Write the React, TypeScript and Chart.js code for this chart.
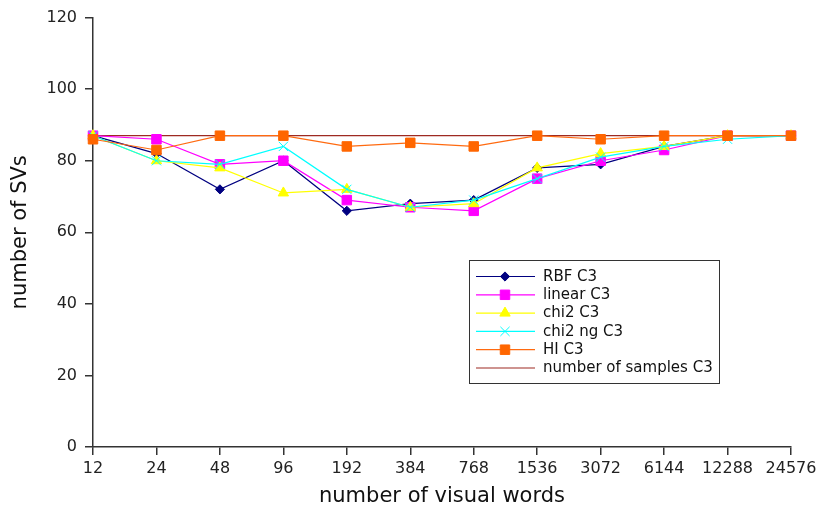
import React, { useEffect, useRef } from "react";
import { Chart, registerables } from "chart.js";
import { drawPoint } from "chart.js/helpers";

Chart.register(...registerables);

const categories = ["12", "24", "48", "96", "192", "384", "768", "1536", "3072", "6144", "12288", "24576"];
const rbfC3 = [87, 82, 72, 80, 66, 68, 69, 78, 79, 84, 87, 87];
const linearC3 = [87, 86, 79, 80, 69, 67, 66, 75, 80, 83, 87, 87];
const chi2C3 = [87, 80, 78, 71, 72, 67, 68, 78, 82, 84, 87, 87];
const chi2ngC3 = [87, 80, 79, 84, 72, 67, 69, 75, 81, 84, 86, 87];
const hiC3 = [86, 83, 87, 87, 84, 85, 84, 87, 86, 87, 87, 87];
const samplesC3 = [87, 87, 87, 87, 87, 87, 87, 87, 87, 87, 87, 87];

const yTicks = [0, 20, 40, 60, 80, 100, 120];
const xTitle = "number of visual words";
const yTitle = "number of SVs";

const FONT = "'DejaVu Sans', sans-serif";

const boxLegend = {
  id: "boxLegend",
  afterDraw(chart: any) {
    const ctx = chart.ctx;
    const x0 = 469, y0 = 260, w = 250, h = 123;
    ctx.save();
    ctx.fillStyle = "#ffffff";
    ctx.fillRect(x0, y0, w, h);
    ctx.strokeStyle = "#333333";
    ctx.lineWidth = 1;
    ctx.strokeRect(x0 + 0.5, y0 + 0.5, w, h);
    chart.data.datasets.forEach((ds: any, i: number) => {
      const y = 276.5 + i * 18.3;
      ctx.strokeStyle = ds.borderColor;
      ctx.lineWidth = ds.borderWidth;
      ctx.beginPath();
      ctx.moveTo(476, y);
      ctx.lineTo(535, y);
      ctx.stroke();
      if (ds.pointRadius > 0) {
        ctx.fillStyle = ds.pointBackgroundColor;
        ctx.strokeStyle = ds.pointBorderColor;
        ctx.lineWidth = ds.pointBorderWidth;
        drawPoint(ctx, { pointStyle: ds.pointStyle, radius: ds.pointRadius, borderWidth: ds.pointBorderWidth, rotation: 0 }, 505, y);
      }
      ctx.fillStyle = "#111111";
      ctx.font = "15px " + FONT;
      ctx.textAlign = "left";
      ctx.textBaseline = "middle";
      ctx.fillText(ds.label, 543, y + 0.5);
    });
    ctx.restore();
  },
};

function mk(label: string, data: number[], color: string, style: any, radius: number, order: number, pointColor?: string) {
  const pc = pointColor || color;
  return {
    label,
    data,
    borderColor: color,
    backgroundColor: pc,
    borderWidth: 1.2,
    pointStyle: style,
    pointRadius: radius,
    pointHoverRadius: radius,
    pointBackgroundColor: pc,
    pointBorderColor: pc,
    pointBorderWidth: 1,
    tension: 0,
    fill: false,
    order,
  };
}

export default function App() {
  const ref = useRef<HTMLCanvasElement | null>(null);
  useEffect(() => {
    if (!ref.current) return;
    const chart = new Chart(ref.current, {
      type: "line",
      data: {
        labels: categories,
        datasets: [
          mk("RBF C3", rbfC3, "#000080", "rectRot", 4.6, 6),
          mk("linear C3", linearC3, "#ff00ff", "rect", 6.7, 5),
          mk("chi2 C3", chi2C3, "#ffff00", "triangle", 6, 4),
          mk("chi2 ng C3", chi2ngC3, "#00ffff", "crossRot", 6.5, 3),
          mk("HI C3", hiC3, "#ff6a10", "rect", 6.7, 2, "#ff6600"),
          mk("number of samples C3", samplesC3, "#9e2a22", "circle", 0, 7),
        ] as any,
      },
      options: {
        responsive: false,
        animation: false,
        events: [],
        layout: { padding: { top: 16, right: 30, left: 0, bottom: 0 }, autoPadding: false },
        plugins: { legend: { display: false }, tooltip: { enabled: false } },
        scales: {
          x: {
            type: "category",
            offset: false,
            grid: { display: true, drawOnChartArea: false, drawTicks: true, tickLength: 8, color: "#333333", lineWidth: 1.5 },
            border: { display: true, color: "#333333", width: 1.5 },
            ticks: { autoSkip: false, maxRotation: 0, minRotation: 0, padding: 4, color: "#222222", font: { family: FONT, size: 16 } },
            title: { display: true, text: xTitle, color: "#111111", font: { family: FONT, size: 21 }, padding: { top: 0, bottom: 3.4 } },
            afterFit: (s: any) => { s.height = 66; },
          },
          y: {
            type: "linear",
            min: 0,
            max: 120,
            afterBuildTicks: (s: any) => { s.ticks = yTicks.map((v) => ({ value: v })); },
            grid: { display: true, drawOnChartArea: false, drawTicks: true, tickLength: 8, color: "#333333", lineWidth: 1.5 },
            border: { display: true, color: "#333333", width: 1.5 },
            ticks: { padding: 8, color: "#222222", font: { family: FONT, size: 16 } },
            title: { display: true, text: yTitle, color: "#111111", font: { family: FONT, size: 21 }, padding: { top: 8.4, bottom: 0 } },
            afterFit: (s: any) => { s.width = 93; },
          },
        },
      } as any,
      plugins: [boxLegend],
    });
    return () => chart.destroy();
  }, []);
  return (
    <div style={{ position: "absolute", left: 0, top: 0, width: 821, height: 513, background: "#fff" }}>
      <canvas ref={ref} width={821} height={513} style={{ display: "block" }} />
    </div>
  );
}
